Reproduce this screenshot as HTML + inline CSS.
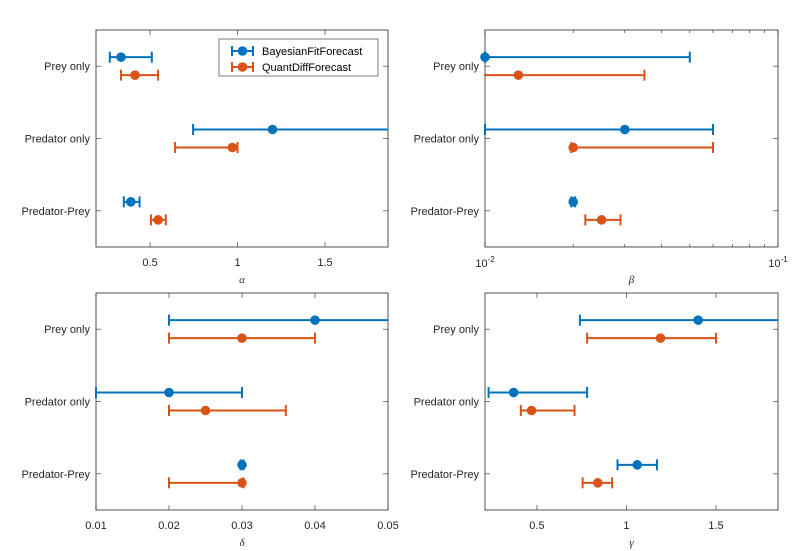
<!DOCTYPE html>
<html><head><meta charset="utf-8"><style>
body{margin:0;background:#fff;}
svg{display:block;font-family:"Liberation Sans",Arial,sans-serif;}
</style></head><body>
<svg id="fig" width="805" height="551"></svg>
<script>
const rowNames=["Prey only","Predator only","Predator-Prey"];
const alphaBlue=[[0.27,0.334,0.51],[0.746,1.2,1.95],[0.35,0.39,0.44]];
const alphaOrange=[[0.334,0.414,0.546],[0.643,0.97,1.0],[0.505,0.546,0.59]];
const betaBlue=[[0.01,0.01,0.05],[0.01,0.03,0.06],[0.0197,0.02,0.0203]];
const betaOrange=[[0.0095,0.013,0.035],[0.0197,0.02,0.06],[0.022,0.025,0.029]];
const deltaBlue=[[0.02,0.04,0.051],[0.01,0.02,0.03],[0.0298,0.03,0.0302]];
const deltaOrange=[[0.02,0.03,0.04],[0.02,0.025,0.036],[0.02,0.03,0.0302]];
const gammaBlue=[[0.74,1.4,1.95],[0.23,0.37,0.78],[0.95,1.06,1.17]];
const gammaOrange=[[0.78,1.19,1.5],[0.41,0.47,0.71],[0.755,0.84,0.92]];
const alphaTicks=[0.5,1,1.5];
const deltaTicks=[0.01,0.02,0.03,0.04,0.05];
const gammaTicks=[0.5,1,1.5];

const NS="http://www.w3.org/2000/svg";
const svg=document.getElementById('fig');
function mk(tag,at,parent){const e=document.createElementNS(NS,tag);for(const k in at)e.setAttribute(k,at[k]);(parent||svg).appendChild(e);return e;}
const BLUE="#0072BD",ORANGE="#D95319";

function panel(name,x0,y0,w,h,dom,log,ticks,blue,orange,xlabel){
  const g=mk('g',{});
  
  
  const X=v=>{let t=log?(Math.log10(v)-Math.log10(dom[0]))/(Math.log10(dom[1])-Math.log10(dom[0])):(v-dom[0])/(dom[1]-dom[0]);return x0+t*w;};
  const rowY=i=>y0+h*(i+0.5)/3;
  const clip='c'+name;
  const cp=mk('clipPath',{id:clip},g);mk('rect',{x:x0-1,y:y0,width:w+1,height:h},cp);
  const tks=[];
  if(log){for(let d=0.01;d<=0.1001;d+=0.01)tks.push({v:d,major:Math.abs(d-0.01)<1e-9||Math.abs(d-0.1)<1e-9});}
  else ticks.forEach(v=>tks.push({v:v,major:true}));
  tks.forEach(t=>{const x=X(t.v);const L=t.major?5:3;
    mk('line',{x1:x,x2:x,y1:y0+h,y2:y0+h-L,stroke:'#262626','stroke-width':0.6},g);
    mk('line',{x1:x,x2:x,y1:y0,y2:y0+L,stroke:'#262626','stroke-width':0.6},g);
  });
  if(log){
    const a=mk('text',{x:X(0.01),y:y0+h+20,'font-size':11,'text-anchor':'middle',fill:'#262626'},g);a.innerHTML='10<tspan dy="-5" font-size="8">-2</tspan>';
    
    const b=mk('text',{x:X(0.1),y:y0+h+20,'font-size':11,'text-anchor':'middle',fill:'#262626'},g);b.innerHTML='10<tspan dy="-5" font-size="8">-1</tspan>';
    
  } else ticks.forEach(v=>{const t=mk('text',{x:X(v),y:y0+h+19,'font-size':11,'text-anchor':'middle',fill:'#262626'},g);t.textContent=String(v);
    });
  rowNames.forEach((n,i)=>{const y=rowY(i);
    mk('line',{x1:x0,x2:x0+5,y1:y,y2:y,stroke:'#262626','stroke-width':0.6},g);
    mk('line',{x1:x0+w,x2:x0+w-5,y1:y,y2:y,stroke:'#262626','stroke-width':0.6},g);
    const t=mk('text',{x:x0-6,y:y+4,'font-size':11,'text-anchor':'end',fill:'#262626'},g);t.textContent=n;
    });
  const xl=mk('text',{x:x0+w/2,y:y0+h+36,'font-size':11,'text-anchor':'middle','font-style':'italic',fill:'#262626','font-family':'Liberation Serif,serif'},g);
  xl.textContent=xlabel;
  mk('rect',{x:x0,y:y0,width:w,height:h,fill:'none',stroke:'#262626','stroke-width':0.8},g);
  const dg=mk('g',{'clip-path':'url(#'+clip+')'},g);
  [[blue,BLUE,-9,'blue'],[orange,ORANGE,9,'orange']].forEach(([arr,c,off,s])=>{
    arr.forEach((d,i)=>{const y=rowY(i)+off;const eg=mk('g',{},dg);
      
      mk('line',{x1:X(d[0]),x2:X(d[2]),y1:y,y2:y,stroke:c,'stroke-width':2},eg);
      [d[0],d[2]].forEach(v=>mk('line',{x1:X(v),x2:X(v),y1:y-5.5,y2:y+5.5,stroke:c,'stroke-width':2},eg));
      const m=mk('circle',{cx:X(d[1]),cy:y,r:4.8,fill:c},g);
      
      
    });
  });
  return g;
}
panel('alpha',96,30,292,217,[0.191,1.86],false,alphaTicks,alphaBlue,alphaOrange,'α');
panel('beta',485,30,293,217,[0.01,0.1],true,null,betaBlue,betaOrange,'β');
panel('delta',96,293,292,217,[0.01,0.05],false,deltaTicks,deltaBlue,deltaOrange,'δ');
panel('gamma',485,293,293,217,[0.21,1.846],false,gammaTicks,gammaBlue,gammaOrange,'γ');
const lg=mk('g',{});


mk('rect',{x:219,y:39,width:159,height:37,fill:'#fff',stroke:'#262626','stroke-width':0.6},lg);
[[BLUE,'BayesianFitForecast',51],[ORANGE,'QuantDiffForecast',67]].forEach(([c,t,y])=>{
  const e=mk('g',{},lg);
  
  
  mk('line',{x1:232,x2:253,y1:y,y2:y,stroke:c,'stroke-width':2},e);
  mk('line',{x1:232,x2:232,y1:y-5,y2:y+5,stroke:c,'stroke-width':2},e);
  mk('line',{x1:253,x2:253,y1:y-5,y2:y+5,stroke:c,'stroke-width':2},e);
  mk('circle',{cx:242.5,cy:y,r:4.8,fill:c},e);
  const tx=mk('text',{x:262,y:y+4,'font-size':11,fill:'#000'},e);tx.textContent=t;
});
</script>
</body></html>
